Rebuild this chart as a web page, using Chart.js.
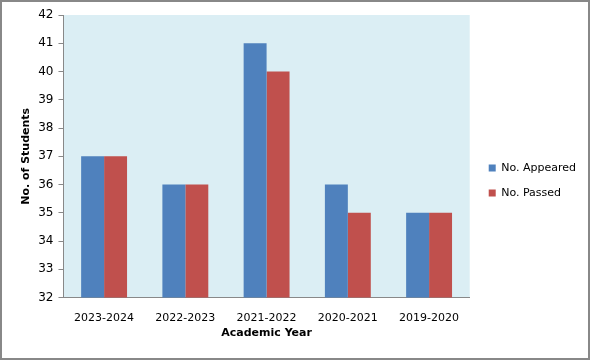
<!DOCTYPE html>
<html>
<head>
<meta charset="utf-8">
<script src="https://cdn.jsdelivr.net/npm/chart.js@4.4.0/dist/chart.umd.min.js"></script>
<style>
  html, body { margin: 0; padding: 0; background: #fff; }
  #wrap { width: 590px; height: 360px; box-sizing: border-box; border: 2px solid #888; position: relative; }
  canvas { display: block; }
</style>
</head>
<body>
<div id="wrap"><canvas id="chart" width="586" height="356"></canvas></div>
<script>
// Academic years and student counts
const years = ['2023-2024', '2022-2023', '2021-2022', '2020-2021', '2019-2020'];
const appeared = [37, 36, 41, 36, 35];
const passed = [37, 36, 40, 35, 35];
const yTicks = [32, 33, 34, 35, 36, 37, 38, 39, 40, 41, 42];

const plotBg = {
  id: 'plotBg',
  beforeDraw(chart) {
    const { ctx, chartArea: a } = chart;
    ctx.save();
    ctx.fillStyle = '#DBEEF4';
    ctx.fillRect(a.left, a.top, a.right - a.left, a.bottom - a.top);
    ctx.restore();
  }
};

// nudge the legend a bit right and down, away from the plot
const legendShift = {
  id: 'legendShift',
  afterLayout(chart) {
    const lg = chart.legend;
    if (!lg) return;
    lg.left += 5; lg.right += 5;
    lg.top += 3; lg.bottom += 3;
  }
};

const font = { family: 'Tahoma, "DejaVu Sans", sans-serif', size: 11 };

new Chart(document.getElementById('chart'), {
  type: 'bar',
  data: {
    labels: years,
    datasets: [
      { label: 'No. Appeared', data: appeared, backgroundColor: '#4F81BD' },
      { label: 'No. Passed', data: passed, backgroundColor: '#C0504D' }
    ]
  },
  options: {
    responsive: false,
    animation: false,
    layout: { padding: { top: 13, right: 7, left: 18, bottom: 18 } },
    datasets: { bar: { categoryPercentage: 0.565, barPercentage: 1 } },
    plugins: {
      legend: {
        position: 'right',
        labels: { boxWidth: 7, boxHeight: 7, color: '#000', font: { ...font, size: 11 }, padding: 14 }
      },
      tooltip: { enabled: false }
    },
    scales: {
      x: {
        grid: { display: false, drawTicks: false },
        border: { color: '#888' },
        ticks: { color: '#000', font, padding: 14, maxRotation: 0 },
        title: { display: true, text: 'Academic Year', color: '#000', font: { ...font, weight: 'bold' }, padding: { top: -12, bottom: 0 } }
      },
      y: {
        min: 32, max: 42,
        afterBuildTicks(axis) { axis.ticks = yTicks.map(v => ({ value: v })); },
        grid: { display: true, drawOnChartArea: false, drawTicks: true, tickLength: 5, color: '#888' },
        border: { color: '#888' },
        ticks: { color: '#000', font: { ...font, size: 12 }, padding: 5 },
        title: { display: true, text: 'No. of Students', color: '#000', font: { ...font, weight: 'bold' }, padding: 0 }
      }
    }
  },
  plugins: [plotBg, legendShift]
});
</script>
</body>
</html>
